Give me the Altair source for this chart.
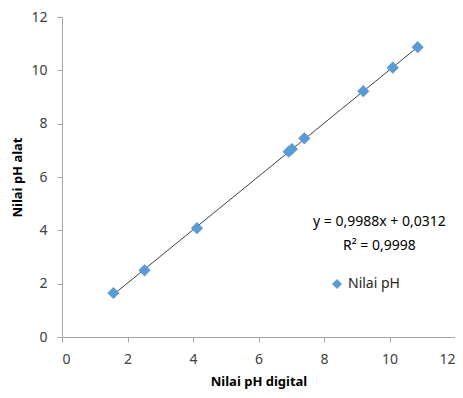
import altair as alt
import pandas as pd

ph_digital = [1.57, 2.52, 4.12, 6.92, 7.02, 7.40, 9.20, 10.10, 10.86]
ph_alat = [1.65, 2.50, 4.08, 6.95, 7.05, 7.45, 9.22, 10.10, 10.87]
series_name = "Nilai pH"
eq_lines = ["y = 0,9988x + 0,0312", "R² = 0,9998"]
eq_x = [9.69, 9.69]
eq_y = [4.30, 3.40]

df = pd.DataFrame({"x": ph_digital, "y": ph_alat, "s": [series_name] * len(ph_digital)})
df_eq = pd.DataFrame({"x": eq_x, "y": eq_y, "t": eq_lines})

FONT = "Noto Sans"

xs = alt.Scale(domain=[0, 12], nice=False, zero=True)
ys = alt.Scale(domain=[0, 12], nice=False, zero=True)

xax = alt.Axis(values=[0, 2, 4, 6, 8, 10, 12], grid=False, title="Nilai pH digital",
               domainColor="#a6a6a6", tickColor="#a6a6a6", tickSize=5,
               labelFont=FONT, labelFontSize=14, labelColor="#404040", labelPadding=10,
               titleFont=FONT, titleFontSize=13, titleFontWeight="bold", titleColor="#000000",
               titlePadding=9)
yax = alt.Axis(values=[0, 2, 4, 6, 8, 10, 12], grid=False, title="Nilai pH alat",
               domainColor="#a6a6a6", tickColor="#a6a6a6", tickSize=5,
               labelFont=FONT, labelFontSize=14, labelColor="#404040", labelPadding=10,
               titleFont=FONT, titleFontSize=13, titleFontWeight="bold", titleColor="#000000",
               titlePadding=6)

base = alt.Chart(df)

line = base.transform_regression("x", "y").mark_line(color="#404040", strokeWidth=1).encode(
    x=alt.X("x:Q", scale=xs, axis=xax),
    y=alt.Y("y:Q", scale=ys, axis=yax),
)

pts = base.mark_point(shape="diamond", filled=True, size=150, opacity=1).encode(
    x=alt.X("x:Q", scale=xs),
    y=alt.Y("y:Q", scale=ys),
    color=alt.Color("s:N", scale=alt.Scale(range=["#5B9BD5"]),
                    legend=alt.Legend(title=None, orient="none", legendX=268, legendY=260,
                                      symbolType="diamond", symbolSize=100,
                                      labelFont=FONT, labelFontSize=14, labelColor="#262626")),
)

txt = alt.Chart(df_eq).mark_text(font=FONT, fontSize=14, color="#000000", align="center").encode(
    x=alt.X("x:Q", scale=xs),
    y=alt.Y("y:Q", scale=ys),
    text="t:N",
)

chart = alt.layer(line, pts, txt).properties(
    width=393, height=320,
    autosize=alt.AutoSizeParams(type="none"),
    padding={"left": 54, "top": 9, "right": 0, "bottom": 53},
).configure_view(stroke=None)

chart.save("out.html", embed_options={"renderer": "svg", "actions": False})
